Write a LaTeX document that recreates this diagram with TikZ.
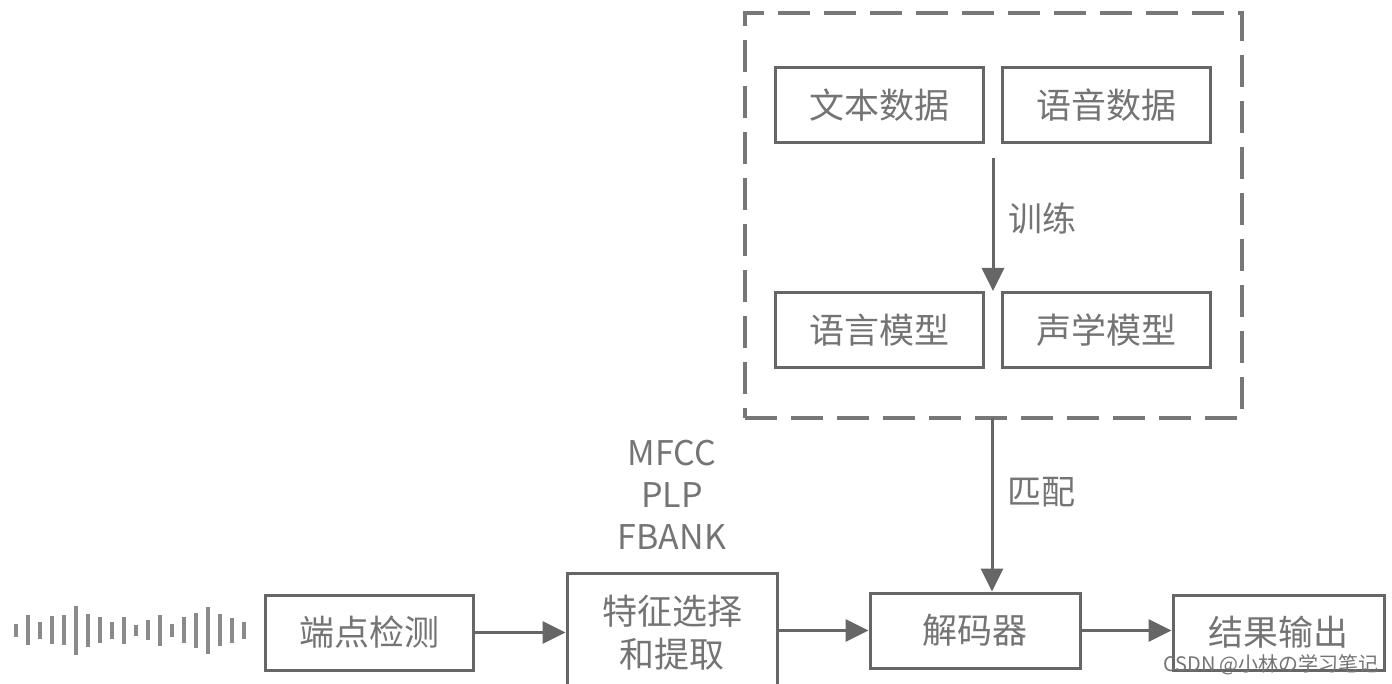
\documentclass[tikz,border=0pt]{standalone}
\usepackage{fontspec}
\setmainfont{Noto Sans CJK SC}
\usetikzlibrary{arrows.meta,calc}
\definecolor{linegray}{HTML}{666666}
\definecolor{textgray}{HTML}{747474}
\definecolor{wavegray}{HTML}{8A8A8A}
\definecolor{dashgray}{HTML}{777777}
\begin{document}
\begin{tikzpicture}[x=1pt,y=-1pt,
  box/.style={draw=linegray, line width=3pt, minimum width=208pt, minimum height=75pt,
    inner sep=0pt, text=textgray, font=\fontsize{35}{43}\selectfont, align=center},
  arr/.style={draw=linegray, line width=3pt, -{Triangle[width=22pt,length=23pt]}},
  lbl/.style={text=textgray, font=\fontsize{34}{42}\selectfont, inner sep=0pt},
  grp/.style={draw=dashgray, line width=4pt, dash pattern=on 32pt off 14pt,
    minimum width=497pt, minimum height=405pt, inner sep=0pt},
  wave/.style={draw=wavegray, line width=4.5pt}]
\useasboundingbox (0,0) rectangle (1392,684);
\clip (0,0) rectangle (1392,684);
\fill[white] (0,0) rectangle (1392,684);

% waveform
\foreach \i/\h in {0/13,1/30,2/17,3/28,4/30,5/49,6/33,7/26,8/17,9/27,10/11,11/20,12/31,13/13,14/26,15/35,16/47,17/32,18/25,19/17}
  \draw[wave] ({16+12*\i},{630-\h/2}) -- ({16+12*\i},{630+\h/2});

% dashed group
\node[grp] (grp) at (993.5,215.5) {};

% boxes
\node[box] (ep)  at (369,632.5)   {端点检测};
\node[box, minimum width=210pt, minimum height=120pt] (fe) at (672,633) {特征选择\\和提取};
\node[box, minimum width=210pt] (dec) at (975,630.5) {解码器};
\node[box, minimum width=211pt] (res) at (1278.5,632.5) {结果输出};
\node[box] (txt) at (879,105.5)    {文本数据};
\node[box] (spd) at (1106.5,105.5) {语音数据};
\node[box] (lm)  at (879,330.5)    {语言模型};
\node[box] (am)  at (1106.5,330.5) {声学模型};

% labels
\node[lbl, align=center] (feat) at (672,495) {MFCC\\PLP\\FBANK};
\node[lbl] (train) at (1042,218) {训练};
\node[lbl] (match) at (1041,492) {匹配};

% connectors
\coordinate (t1) at (993,158);
\coordinate (t2) at (993,291);
\draw[arr] (t1) -- (t2);
\coordinate (m1) at (992,418);
\draw[arr] (m1) -- (m1 |- dec.north);
\draw[arr] (ep.east) -- (ep.east -| fe.west);
\draw[arr] (fe.east |- dec.west) -- (dec.west);
\draw[arr] (dec.east) -- (dec.east -| res.west);

% watermark
\node[text=textgray, font=\fontsize{20}{20}\selectfont, inner sep=0pt] (wm) at (1271,665) {CSDN @小林の学习笔记};
\end{tikzpicture}
\end{document}
